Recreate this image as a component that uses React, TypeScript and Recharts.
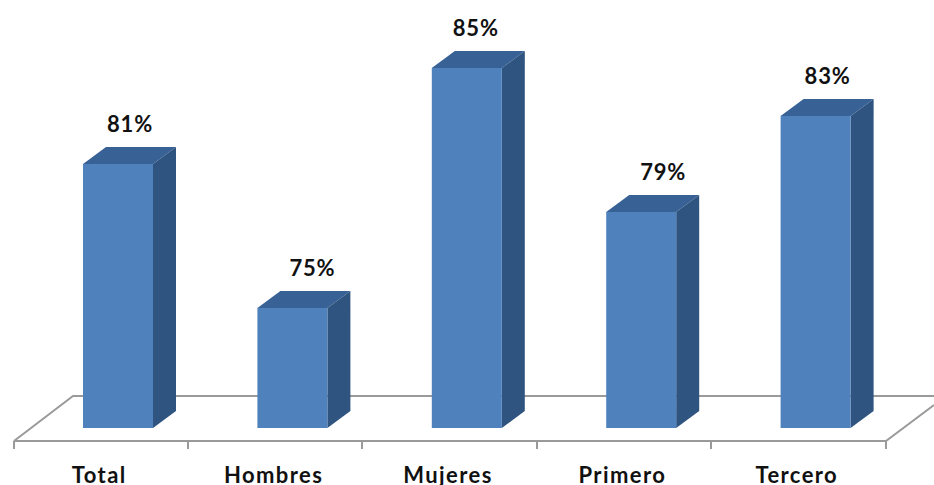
import React from 'react';
import { BarChart, Bar, XAxis, YAxis, LabelList, Customized } from 'recharts';

const categories = ['Total', 'Hombres', 'Mujeres', 'Primero', 'Tercero'];
const percentages = [81, 75, 85, 79, 83];

const rows = categories.map((name, i) => ({ name, value: percentages[i] }));

const WIDTH = 934;
const HEIGHT = 485;
const FRONT = '#4F81BD';
const SIDE = '#2F5480';
const TOP = '#386296';
const FLOOR = '#9A9A9A';

// oblique projection of the columns
const DEPTH_X = 23;
const DEPTH_Y = 17;
const BAR_SHIFT = 17;
// labels sit a little off the column centre, each by its own amount
const labelNudge = [29, 37, 26, 39, 29];

const floorFrontY = 441;
const floorBackY = 396;
const floorTicks = [14, 188, 362, 537, 711, 886];

const ColumnShape = (props: any) => {
  const { x, y, width, height } = props;
  const left = x + BAR_SHIFT;
  const right = left + width;
  const bottom = y + height;
  return (
    <g>
      <polygon
        points={`${left},${y} ${left + DEPTH_X},${y - DEPTH_Y} ${right + DEPTH_X},${y - DEPTH_Y} ${right},${y}`}
        fill={TOP}
      />
      <polygon
        points={`${right},${y} ${right + DEPTH_X},${y - DEPTH_Y} ${right + DEPTH_X},${bottom - DEPTH_Y} ${right},${bottom}`}
        fill={SIDE}
      />
      <rect x={left} y={y} width={width} height={height} fill={FRONT} />
    </g>
  );
};

const ValueLabel = (props: any) => {
  const { x, y, width, value, index } = props;
  return (
    <text
      x={x + width / 2 + labelNudge[index]}
      y={y - 32}
      textAnchor="middle"
      fontFamily="Lato, sans-serif"
      fontWeight={700}
      fontSize={22}
      letterSpacing={0.8}
      fill="#111"
    >
      {`${value}%`}
    </text>
  );
};

// category names, nudged to sit just left of the band centre
const CategoryTick = (props: any) => {
  const { x, payload } = props;
  return (
    <text
      x={x - 2}
      y={483}
      textAnchor="middle"
      fontFamily="Lato, sans-serif"
      fontWeight={700}
      fontSize={22}
      letterSpacing={1.4}
      fill="#111"
    >
      {payload.value}
    </text>
  );
};

// the floor plane under the columns, with its category ticks
const Floor = () => (
  <g stroke={FLOOR} strokeWidth={2} fill="none">
    <polyline points={`14,${floorFrontY} 73,${floorBackY} 934,${floorBackY}`} />
    <polyline points={`14,${floorFrontY} 886,${floorFrontY} 934,405`} />
    {floorTicks.map((t) => (
      <line key={t} x1={t} x2={t} y1={floorFrontY} y2={floorFrontY + 8} />
    ))}
  </g>
);

export default function App() {
  return (
    <div style={{ position: 'absolute', left: 0, top: 0, width: WIDTH, height: HEIGHT, background: '#fff' }}>
      <BarChart
        width={WIDTH}
        height={HEIGHT}
        data={rows}
        margin={{ top: 20, right: 48, bottom: 0, left: 14 }}
        barCategoryGap={0}
      >
        <Customized component={Floor} />
        <XAxis
          dataKey="name"
          height={57}
          axisLine={false}
          tickLine={false}
          tick={<CategoryTick />}
          interval={0}
        />
        <YAxis hide domain={[70, 87]} allowDataOverflow />
        <Bar dataKey="value" barSize={70} shape={<ColumnShape />} isAnimationActive={false}>
          <LabelList dataKey="value" content={<ValueLabel />} />
        </Bar>
      </BarChart>
    </div>
  );
}
